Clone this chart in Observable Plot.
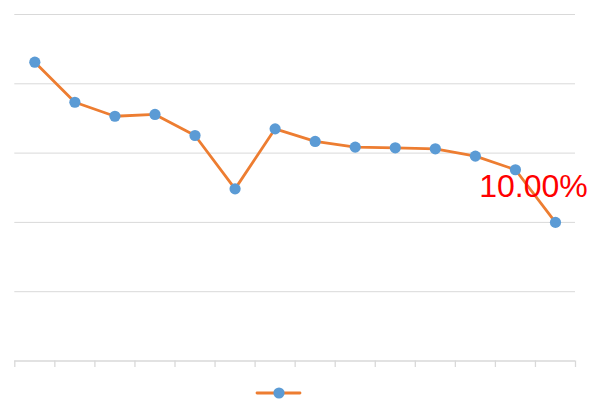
<!DOCTYPE html>
<html>
<head>
<meta charset="utf-8">
<script src="https://cdn.jsdelivr.net/npm/d3@7"></script>
<script src="https://cdn.jsdelivr.net/npm/@observablehq/plot@0.6"></script>
<style>
  html, body { margin: 0; padding: 0; background: #fff; }
  #wrap { width: 600px; height: 414px; position: relative; overflow: hidden; }
  #legend { position: absolute; left: 0; top: 376px; width: 600px; height: 38px; }
</style>
</head>
<body>
<div id="wrap">
  <div id="chart"></div>
  <div id="legend"></div>
</div>
<script>
// Data
const categories = [1, 2, 3, 4, 5, 6, 7, 8, 9, 10, 11, 12, 13, 14];
const values = [21.56, 18.67, 17.66, 17.79, 16.27, 12.42, 16.75, 15.84, 15.43, 15.38, 15.31, 14.78, 13.80, 10.0];
const yTicks = [5, 10, 15, 20, 25];
const labelText = "10.00%";

const data = categories.map((c, i) => ({cat: c, value: values[i]}));
const bounds = d3.range(categories.length + 1).map(i => i + 0.5);
const lastPoint = [data[data.length - 1]];

const ORANGE = "#ED7D31";
const BLUE = "#5B9BD5";
const GRID = "#d9d9d9";

const chart = Plot.plot({
  width: 600,
  height: 376,
  marginTop: 14,
  marginBottom: 15.5,
  marginLeft: 14.3,
  marginRight: 25,
  style: {background: "#fff", overflow: "visible"},
  x: {type: "linear", domain: [0.5, categories.length + 0.5], axis: null, label: null},
  y: {domain: [0, 25], axis: null},
  marks: [
    Plot.ruleY(yTicks, {stroke: GRID, strokeWidth: 1}),
    Plot.ruleY([0], {stroke: GRID, strokeWidth: 1.3}),
    Plot.axisX({ticks: bounds, tickSize: 6.5, tickFormat: () => "", label: null, stroke: GRID, strokeWidth: 1.3, tickPadding: 0}),
    Plot.line(data, {x: "cat", y: "value", stroke: ORANGE, strokeWidth: 2.8, strokeLinejoin: "round", strokeLinecap: "round"}),
    Plot.dot(data, {x: "cat", y: "value", r: 5.6, fill: BLUE, stroke: "none"}),
    Plot.text(lastPoint, {
      x: "cat", y: "value", text: () => labelText,
      dx: -22, dy: -25, textAnchor: "middle", lineAnchor: "bottom",
      fill: "#FF0000", fontSize: 32, fontFamily: "Liberation Sans, Arial, sans-serif"
    })
  ]
});
document.getElementById("chart").appendChild(chart);

// Legend below the chart
const leg = d3.select("#legend").append("svg")
  .attr("width", 600).attr("height", 38);
leg.append("line")
  .attr("x1", 257).attr("x2", 300).attr("y1", 17).attr("y2", 17)
  .attr("stroke", ORANGE).attr("stroke-width", 2.8).attr("stroke-linecap", "round");
leg.append("circle")
  .attr("cx", 279).attr("cy", 17).attr("r", 5.6).attr("fill", BLUE);
</script>
</body>
</html>
